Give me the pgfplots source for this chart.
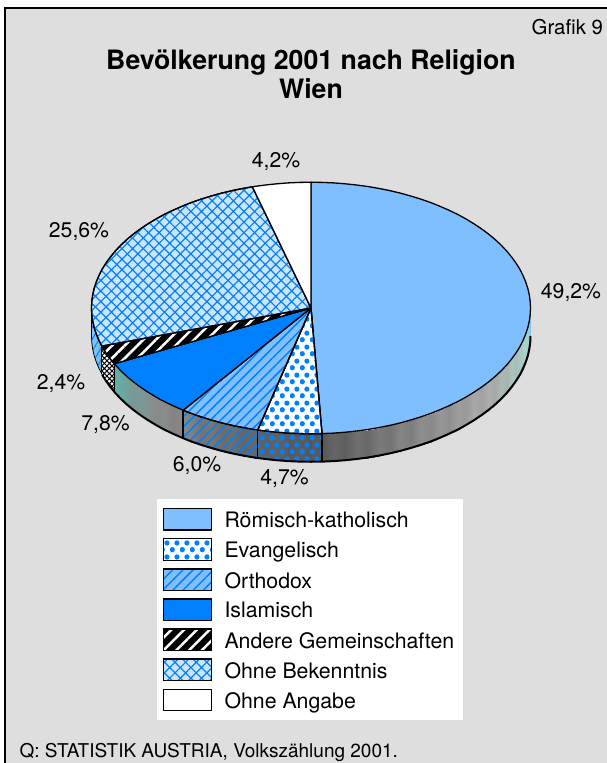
\documentclass[border=0pt]{standalone}
\usepackage{fontspec}
\setmainfont{TeX Gyre Heros}
\usepackage{pgfplots}
\pgfplotsset{compat=1.18}
\usetikzlibrary{patterns.meta}
\definecolor{bg}{HTML}{DEDEDE}
\definecolor{kath}{HTML}{80BFFF}
\definecolor{blau}{HTML}{0080FF}
\definecolor{hell}{HTML}{CCE5FF}
\pgfdeclarepattern{name=staggerdots,type=uncolored,
  bottom left={\pgfpoint{0pt}{0pt}},top right={\pgfpoint{10pt}{14pt}},
  tile size={\pgfpoint{10pt}{14pt}},
  code={\pgfpathcircle{\pgfpoint{2.5pt}{3.5pt}}{2.8pt}\pgfpathcircle{\pgfpoint{7.5pt}{10.5pt}}{2.8pt}\pgfusepath{fill}}}
\pgfplotsset{
  colormap={wallR}{rgb255(0cm)=(80,80,80); rgb255(5cm)=(168,168,168); rgb255(7.5cm)=(168,212,204); rgb255(10cm)=(128,192,255)},
  colormap={wallL}{rgb255(0cm)=(80,80,80); rgb255(5cm)=(138,138,138); rgb255(7.5cm)=(96,176,168); rgb255(10cm)=(128,196,255)},
}
\tikzset{
  dotsP/.style={pattern=staggerdots,pattern color=blau},
  linesP/.style={pattern={Lines[distance=7.2pt,angle=45,line width=1.5pt]},pattern color=blau},
  blackP/.style={pattern={Lines[distance=9pt,angle=45,line width=2.5pt]},pattern color=white},
  hatchP/.style={pattern={Hatch[distance=7.5pt,angle=45,line width=1.2pt]},pattern color=blau},
}
\begin{document}
\begin{tikzpicture}
\begin{axis}[
  scale only axis,width=607pt,height=763pt,
  xmin=0,xmax=607,ymin=0,ymax=763,y dir=reverse,
  hide axis,
  point meta min=0,point meta max=1,
  legend cell align=left,
  legend image code/.code={\draw[#1,draw=black,line width=1.4pt] (0pt,-9.5pt) rectangle (48pt,12pt);},
  legend style={at={(axis cs:157,499.2)},anchor=north west,draw=none,fill=white,
    inner xsep=5.8pt,inner ysep=8.5pt,row sep=7.2pt,font=\fontsize{21.3}{25}\selectfont,
    /tikz/every odd column/.append style={column sep=9.1pt},
    nodes={inner xsep=3pt,inner ysep=0pt}},
]
% page and background
\addplot[forget plot,fill=white,draw=none] coordinates {(0,0)(607,0)(607,763)(0,763)} -- cycle;
\addplot[forget plot,fill=bg,draw=none] coordinates {(5,8)(607,8)(607,763)(5,763)} -- cycle;
\addplot[forget plot,black,line width=1.6pt] coordinates {(5,763)(5,8)(607,8)};

% side wall, right part
\addplot[forget plot,surf,shader=interp,colormap name=wallR,mesh/ordering=y varies,mesh/rows=2,point meta=explicit]
 table[x index=0,y index=1,meta index=2] {
530.5 308 1
530.5 336 1
530.2 314.6 .97
530.2 342.6 .97
529.3 321.1 .9
529.3 349.1 .9
527.8 327.7 .82
527.8 355.7 .82
525.7 334.1 .76
525.7 362.1 .76
523 340.5 .72
523 368.5 .72
519.8 346.9 .68
519.8 374.9 .68
515.9 353.1 .62
515.9 381.1 .62
511.5 359.1 .66
511.5 387.1 .66
506.6 365.1 .56
506.6 393.1 .56
501.1 370.9 .6
501.1 398.9 .6
495.1 376.5 .5
495.1 404.5 .5
488.6 381.9 .54
488.6 409.9 .54
481.6 387.1 .46
481.6 415.1 .46
474.1 392.1 .5
474.1 420.1 .5
466.2 396.9 .42
466.2 424.9 .42
457.9 401.5 .44
457.9 429.5 .44
449.1 405.7 .36
449.1 433.7 .36
440 409.7 .4
440 437.7 .4
430.6 413.5 .32
430.6 441.5 .32
420.8 416.9 .35
420.8 444.9 .35
410.7 420 .26
410.7 448 .26
400.3 422.9 .3
400.3 450.9 .3
389.7 425.4 .2
389.7 453.4 .2
378.8 427.6 .24
378.8 455.6 .24
367.8 429.5 .14
367.8 457.5 .14
356.6 431 .18
356.6 459 .18
345.3 432.2 .08
345.3 460.2 .08
333.9 433.1 .12
333.9 461.1 .12
322.5 433.6 .05
322.5 461.6 .05
311 433.75 .05
311 461.75 .05
};
% side wall, left part
\addplot[forget plot,surf,shader=interp,colormap name=wallL,mesh/ordering=y varies,mesh/rows=2,point meta=explicit]
 table[x index=0,y index=1,meta index=2] {
311 433.75 .05
311 461.75 .05
299.5 433.6 .1
299.5 461.6 .1
288.1 433.1 .08
288.1 461.1 .08
276.7 432.2 .15
276.7 460.2 .15
265.4 431 .12
265.4 459 .12
254.2 429.5 .2
254.2 457.5 .2
243.2 427.6 .18
243.2 455.6 .18
232.3 425.4 .26
232.3 453.4 .26
221.7 422.9 .24
221.7 450.9 .24
211.3 420 .34
211.3 448 .34
201.2 416.9 .3
201.2 444.9 .3
191.4 413.5 .42
191.4 441.5 .42
182 409.7 .48
182 437.7 .48
172.9 405.7 .44
172.9 433.7 .44
164.1 401.5 .52
164.1 429.5 .52
155.8 396.9 .5
155.8 424.9 .5
147.9 392.1 .56
147.9 420.1 .56
140.4 387.1 .6
140.4 415.1 .6
133.4 381.9 .58
133.4 409.9 .58
126.9 376.5 .66
126.9 404.5 .66
120.9 370.9 .7
120.9 398.9 .7
115.4 365.1 .74
115.4 393.1 .74
110.5 359.1 .78
110.5 387.1 .78
106.1 353.1 .82
106.1 381.1 .82
102.2 346.9 .88
102.2 374.9 .88
99 340.5 .92
99 368.5 .92
96.3 334.1 .96
96.3 362.1 .96
94.2 327.7 1
94.2 355.7 1
92.7 321.1 1
92.7 349.1 1
91.8 314.6 1
91.8 342.6 1
91.5 308 1
91.5 336 1
};
% patterns on the wall
\addplot[forget plot,draw=none,dotsP] coordinates {(322,433.6)(311,433.75)(299.5,433.6)(288.1,433.1)(276.7,432.2)(265.4,431)(257.7,430)(257.7,458)(265.4,459)(276.7,460.2)(288.1,461.1)(299.5,461.6)(311,461.75)(322,461.6)} -- cycle;
\addplot[forget plot,draw=none,linesP] coordinates {(257.7,430)(254.2,429.5)(243.2,427.6)(232.3,425.4)(221.7,422.9)(211.3,420)(201.2,416.9)(191.4,413.5)(183.1,410.2)(183.1,438.2)(191.4,441.5)(201.2,444.9)(211.3,448)(221.7,450.9)(232.3,453.4)(243.2,455.6)(254.2,457.5)(257.7,458)} -- cycle;
\addplot[forget plot,draw=none,fill=white] coordinates {(114.2,363.7)(110.5,359.1)(106.1,353.1)(101.8,346.1)(101.8,374.1)(106.1,381.1)(110.5,387.1)(114.2,391.7)} -- cycle;
\addplot[forget plot,draw=none,pattern={Hatch[distance=3.6pt,angle=45,line width=1pt]},pattern color=black] coordinates {(114.2,363.7)(110.5,359.1)(106.1,353.1)(101.8,346.1)(101.8,374.1)(106.1,381.1)(110.5,387.1)(114.2,391.7)} -- cycle;
\addplot[forget plot,draw=none,pattern={Lines[distance=6pt,angle=60,line width=1pt]},pattern color=blau] coordinates {(101.8,346.1)(99,340.5)(96.3,334.1)(94.2,327.7)(92.7,321.1)(91.8,314.6)(91.5,308)(91.5,336)(91.8,342.6)(92.7,349.1)(94.2,355.7)(96.3,362.1)(99,368.5)(101.8,374.1)} -- cycle;
% wall outline
\addplot[forget plot,black,line width=2pt] coordinates {(530.5,336)(530.2,342.6)(529.3,349.1)(527.8,355.7)(525.7,362.1)(523,368.5)(519.8,374.9)(515.9,381.1)(511.5,387.1)(506.6,393.1)(501.1,398.9)(495.1,404.5)(488.6,409.9)(481.6,415.1)(474.1,420.1)(466.2,424.9)(457.9,429.5)(449.1,433.7)(440,437.7)(430.6,441.5)(420.8,444.9)(410.7,448)(400.3,450.9)(389.7,453.4)(378.8,455.6)(367.8,457.5)(356.6,459)(345.3,460.2)(333.9,461.1)(322.5,461.6)(311,461.75)(299.5,461.6)(288.1,461.1)(276.7,460.2)(265.4,459)(254.2,457.5)(243.2,455.6)(232.3,453.4)(221.7,450.9)(211.3,448)(201.2,444.9)(191.4,441.5)(182,437.7)(172.9,433.7)(164.1,429.5)(155.8,424.9)(147.9,420.1)(140.4,415.1)(133.4,409.9)(126.9,404.5)(120.9,398.9)(115.4,393.1)(110.5,387.1)(106.1,381.1)(102.2,374.9)};
\addplot[forget plot,black,line width=.8pt] coordinates {(102.2,374.9)(99,368.5)(96.3,362.1)(94.2,355.7)(92.7,349.1)(91.8,342.6)(91.5,336)(91.5,308)};
\addplot[forget plot,black,line width=1.3pt] coordinates {(322,433.6)(322,461.6)};
\addplot[forget plot,black,line width=1.3pt] coordinates {(257.7,430)(257.7,458)};
\addplot[forget plot,black,line width=1.3pt] coordinates {(183.1,410.2)(183.1,438.2)};
\addplot[forget plot,black,line width=1.3pt] coordinates {(114.2,363.7)(114.2,391.7)};
\addplot[forget plot,black,line width=1.3pt] coordinates {(101.8,346.1)(101.8,374.1)};

% top face: 49.2 | 4.7 | 6.0 | 7.8 | 2.4 | 25.6 | 4.2
\addplot[draw=black,line width=1.3pt,line join=round,fill=kath] coordinates {(311,308)(311,182.25)(322.5,182.4)(333.9,182.9)(345.3,183.8)(356.6,185)(367.8,186.5)(378.8,188.4)(389.7,190.6)(400.3,193.1)(410.7,196)(420.8,199.1)(430.6,202.5)(440,206.3)(449.1,210.3)(457.9,214.5)(466.2,219.1)(474.1,223.9)(481.6,228.9)(488.6,234.1)(495.1,239.5)(501.1,245.1)(506.6,250.9)(511.5,256.9)(515.9,262.9)(519.8,269.1)(523,275.5)(525.7,281.9)(527.8,288.3)(529.3,294.9)(530.2,301.4)(530.5,308)(530.2,314.6)(529.3,321.1)(527.8,327.7)(525.7,334.1)(523,340.5)(519.8,346.9)(515.9,353.1)(511.5,359.1)(506.6,365.1)(501.1,370.9)(495.1,376.5)(488.6,381.9)(481.6,387.1)(474.1,392.1)(466.2,396.9)(457.9,401.5)(449.1,405.7)(440,409.7)(430.6,413.5)(420.8,416.9)(410.7,420)(400.3,422.9)(389.7,425.4)(378.8,427.6)(367.8,429.5)(356.6,431)(345.3,432.2)(333.9,433.1)(322,433.6)} -- cycle;
\addlegendentry{Römisch-katholisch}
\addplot[draw=black,line width=1.3pt,line join=round,fill=white,postaction={dotsP}] coordinates {(311,308)(322,433.6)(311,433.75)(299.5,433.6)(288.1,433.1)(276.7,432.2)(265.4,431)(257.7,430)} -- cycle;
\addlegendentry{Evangelisch}
\addplot[draw=black,line width=1.3pt,line join=round,fill=kath,postaction={linesP}] coordinates {(311,308)(257.7,430)(254.2,429.5)(243.2,427.6)(232.3,425.4)(221.7,422.9)(211.3,420)(201.2,416.9)(191.4,413.5)(183.1,410.2)} -- cycle;
\addlegendentry{Orthodox}
\addplot[draw=black,line width=1.3pt,line join=round,fill=blau] coordinates {(311,308)(183.1,410.2)(172.9,405.7)(164.1,401.5)(155.8,396.9)(147.9,392.1)(140.4,387.1)(133.4,381.9)(126.9,376.5)(120.9,370.9)(114.2,363.7)} -- cycle;
\addlegendentry{Islamisch}
\addplot[draw=black,line width=1.3pt,line join=round,fill=black,postaction={blackP}] coordinates {(311,308)(114.2,363.7)(110.5,359.1)(106.1,353.1)(101.8,346.1)} -- cycle;
\addlegendentry{Andere Gemeinschaften}
\addplot[draw=black,line width=1.3pt,line join=round,fill=hell,postaction={hatchP}] coordinates {(311,308)(101.8,346.1)(99,340.5)(96.3,334.1)(94.2,327.7)(92.7,321.1)(91.8,314.6)(91.5,308)(91.8,301.4)(92.7,294.9)(94.2,288.3)(96.3,281.9)(99,275.5)(102.2,269.1)(106.1,262.9)(110.5,256.9)(115.4,250.9)(120.9,245.1)(126.9,239.5)(133.4,234.1)(140.4,228.9)(147.9,223.9)(155.8,219.1)(164.1,214.5)(172.9,210.3)(182,206.3)(191.4,202.5)(201.2,199.1)(211.3,196)(221.7,193.1)(232.3,190.6)(243.2,188.4)(252.4,186.8)} -- cycle;
\addlegendentry{Ohne Bekenntnis}
\addplot[draw=black,line width=1.3pt,line join=round,fill=white] coordinates {(311,308)(252.4,186.8)(254.2,186.5)(265.4,185)(276.7,183.8)(288.1,182.9)(299.5,182.4)(311,182.25)} -- cycle;
\addlegendentry{Ohne Angabe}

% texts
\node[anchor=east,font=\fontsize{20.4}{24}\selectfont] at (axis cs:606.5,27) {Grafik 9};
\node[font=\bfseries\fontsize{26.7}{29}\selectfont,align=center] at (axis cs:311,74.5) {Bevölkerung 2001 nach Religion\\Wien};
\node[anchor=west,font=\fontsize{19}{22}\selectfont] at (axis cs:16,752) {Q: STATISTIK AUSTRIA, Volkszählung 2001.};
\begin{scope}[every node/.style={font=\fontsize{21.2}{24}\selectfont}]
\node at (axis cs:276,162) {4,2\%};
\node at (axis cs:79,232) {25,6\%};
\node at (axis cs:571,293) {49,2\%};
\node at (axis cs:61,384) {2,4\%};
\node at (axis cs:105.5,424.7) {7,8\%};
\node at (axis cs:197,465.3) {6,0\%};
\node at (axis cs:284.5,478.7) {4,7\%};
\end{scope}
\end{axis}
\end{tikzpicture}
\end{document}
